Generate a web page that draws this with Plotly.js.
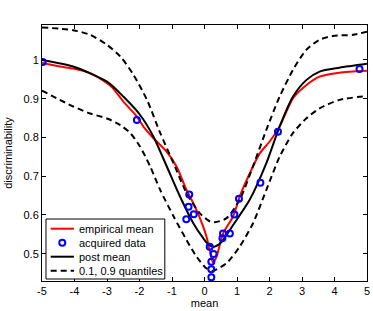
<!DOCTYPE html>
<html>
<head>
<meta charset="utf-8">
<script src="https://cdn.plot.ly/plotly-3.0.1.min.js"></script>
<style>html,body{margin:0;padding:0;background:#fff;}#chart{width:373px;height:311px;}</style>
</head>
<body>
<div id="chart"></div>
<script>
// empirical mean (red)
const empX = [-5, -4.45, -4.04, -3.52, -3, -2.85, -2.49, -2.08, -1.88, -1.57, -1.16, -0.86, -0.55, -0.29, -0.04, 0.06, 0.16, 0.26, 0.37, 0.57, 0.88, 1.08, 1.39, 1.7, 2.0, 2.31, 2.72, 3.13, 3.54, 4.15, 5];
const empY = [0.993, 0.983, 0.978, 0.966, 0.94, 0.93, 0.892, 0.854, 0.828, 0.798, 0.763, 0.725, 0.664, 0.621, 0.57, 0.544, 0.51, 0.477, 0.492, 0.552, 0.596, 0.647, 0.707, 0.759, 0.789, 0.828, 0.901, 0.935, 0.957, 0.967, 0.972];
// acquired data (blue circles)
const dataX = [-4.98, -2.08, -0.47, -0.49, -0.33, -0.56, 0.16, 0.28, 0.21, 0.21, 0.21, 0.57, 0.55, 0.78, 0.92, 1.06, 1.72, 2.26, 4.77];
const dataY = [0.995, 0.845, 0.653, 0.621, 0.602, 0.589, 0.518, 0.499, 0.479, 0.46, 0.439, 0.552, 0.54, 0.552, 0.601, 0.642, 0.683, 0.815, 0.977];
// posterior mean (black)
const postX = [-5, -4.04, -3, -2.49, -1.98, -1.57, -1.16, -0.75, -0.34, -0.04, 0.12, 0.3, 0.5, 0.88, 1.39, 1.9, 2.31, 2.72, 3.13, 3.54, 4.15, 5];
const postY = [1.0, 0.983, 0.944, 0.905, 0.858, 0.802, 0.725, 0.647, 0.578, 0.54, 0.524, 0.518, 0.528, 0.574, 0.639, 0.733, 0.828, 0.905, 0.948, 0.97, 0.98, 0.99];
// 0.9 quantile (upper dashed)
const q90X = [-5, -4.04, -3.52, -3, -2.59, -2.18, -1.77, -1.36, -0.95, -0.55, -0.14, 0.17, 0.31, 0.67, 1.08, 1.49, 1.9, 2.31, 2.72, 3.13, 3.54, 3.95, 4.57, 5];
const q90Y = [1.084, 1.077, 1.065, 1.039, 1.009, 0.961, 0.897, 0.811, 0.733, 0.656, 0.604, 0.583, 0.581, 0.591, 0.639, 0.725, 0.819, 0.905, 0.974, 1.026, 1.052, 1.062, 1.065, 1.073];
// 0.1 quantile (lower dashed)
const q10X = [-5, -4.45, -4.04, -3.52, -3, -2.59, -2.28, -1.98, -1.67, -1.36, -0.95, -0.55, -0.24, 0.06, 0.26, 0.67, 1.08, 1.49, 1.9, 2.31, 2.72, 3.13, 3.54, 4.15, 5];
const q10Y = [0.921, 0.897, 0.880, 0.862, 0.849, 0.832, 0.811, 0.776, 0.725, 0.664, 0.596, 0.535, 0.492, 0.462, 0.456, 0.475, 0.518, 0.578, 0.664, 0.750, 0.811, 0.849, 0.875, 0.897, 0.907];

const xTicks = [-5, -4, -3, -2, -1, 0, 1, 2, 3, 4, 5];
const xTickText = ["-5", "-4", "-3", "-2", "-1", "0", "1", "2", "3", "4", "5"];
const yTicks = [0.5, 0.6, 0.7, 0.8, 0.9, 1];
const yTickText = ["0.5", "0.6", "0.7", "0.8", "0.9", "1"];
const legendLabels = ["empirical mean", "acquired data", "post mean", "0.1, 0.9 quantiles"];

const font = {family: "Liberation Sans, Arial, sans-serif", size: 11, color: "#000"};
const SM = 0.7;

const traces = [
  {x: empX, y: empY, type: "scatter", mode: "lines", name: legendLabels[0],
   line: {color: "#ff0000", width: 2, shape: "spline", smoothing: SM}},
  {x: postX, y: postY, type: "scatter", mode: "lines", name: legendLabels[2],
   line: {color: "#000000", width: 2, shape: "spline", smoothing: SM}},
  {x: q90X, y: q90Y, type: "scatter", mode: "lines", name: legendLabels[3],
   line: {color: "#000000", width: 2, dash: "6px,4px", shape: "spline", smoothing: SM}},
  {x: q10X, y: q10Y, type: "scatter", mode: "lines", name: legendLabels[3],
   line: {color: "#000000", width: 2, dash: "6px,4px", shape: "spline", smoothing: SM}},
  {x: dataX, y: dataY, type: "scatter", mode: "markers", name: legendLabels[1],
   marker: {symbol: "circle-open", size: 6, color: "#0000ff", line: {color: "#0000ff", width: 2}}}
];

// legend (MATLAB-style compact box), positioned in paper coordinates
const plotL = 42, plotR = 367.5, plotT = 25, plotB = 281;
const px = v => (v - plotL) / (plotR - plotL);
const py = v => (plotB - v) / (plotB - plotT);
const rowsY = [228.7, 242.7, 256.7, 270.7];
const sampleX0 = px(50.7), sampleX1 = px(74), textX = px(76.7), markX = px(62.3);

const shapes = [
  {type: "rect", xref: "paper", yref: "paper", x0: px(46), x1: px(165), y0: py(279), y1: py(219),
   fillcolor: "#fff", line: {color: "#000", width: 1}, layer: "above"},
  {type: "line", xref: "paper", yref: "paper", x0: sampleX0, x1: sampleX1, y0: py(rowsY[0]), y1: py(rowsY[0]),
   line: {color: "#ff0000", width: 2}},
  {type: "circle", xref: "paper", yref: "paper", xsizemode: "pixel", ysizemode: "pixel",
   xanchor: markX, yanchor: py(rowsY[1]), x0: -3, x1: 3, y0: -3, y1: 3,
   line: {color: "#0000ff", width: 2}},
  {type: "line", xref: "paper", yref: "paper", x0: sampleX0, x1: sampleX1, y0: py(rowsY[2]), y1: py(rowsY[2]),
   line: {color: "#000", width: 2}},
  {type: "line", xref: "paper", yref: "paper", x0: sampleX0, x1: sampleX1, y0: py(rowsY[3]), y1: py(rowsY[3]),
   line: {color: "#000", width: 2, dash: "6px,4px"}}
];
const annotations = legendLabels.map((t, i) => ({
  xref: "paper", yref: "paper", x: textX, y: py(rowsY[i]), xanchor: "left", yanchor: "middle",
  text: t, showarrow: false, font: font
}));

const axisCommon = {
  showline: true, linecolor: "#000", linewidth: 1, mirror: "ticks",
  ticks: "inside", ticklen: 4, tickcolor: "#000", tickwidth: 1,
  showgrid: false, zeroline: false, tickfont: font
};

const layout = {
  width: 373, height: 311,
  margin: {l: plotL, r: 373 - plotR, t: plotT, b: 311 - plotB},
  paper_bgcolor: "#fff", plot_bgcolor: "#fff",
  font: font,
  showlegend: false,
  shapes: shapes,
  annotations: annotations,
  xaxis: Object.assign({}, axisCommon, {range: [-5, 5], tickvals: xTicks, ticktext: xTickText,
         title: {text: "mean", font: font, standoff: 3}}),
  yaxis: Object.assign({}, axisCommon, {range: [0.4295, 1.0903], tickvals: yTicks, ticktext: yTickText,
         title: {text: "discriminability", font: font, standoff: 8}})
};

Plotly.newPlot("chart", traces, layout, {displayModeBar: false, staticPlot: true});
</script>
</body>
</html>
